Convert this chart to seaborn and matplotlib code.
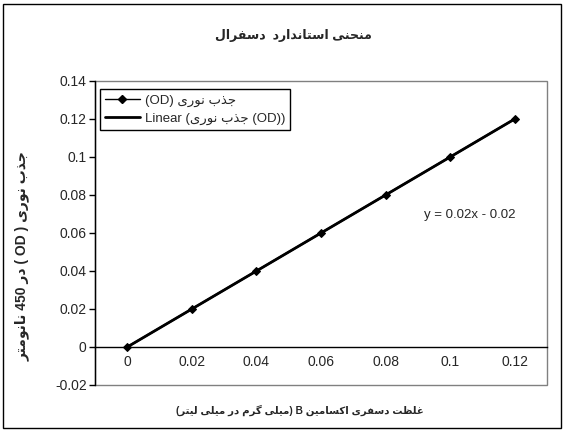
import numpy as np
import matplotlib
matplotlib.use("Agg")
import matplotlib.pyplot as plt
import seaborn as sns
from matplotlib.patches import Rectangle
from matplotlib.lines import Line2D
from matplotlib.ticker import FuncFormatter, FixedLocator

# ==================== 数据 ====================
conc = [0, 0.02, 0.04, 0.06, 0.08, 0.10, 0.12]
od = [0, 0.02, 0.04, 0.06, 0.08, 0.10, 0.12]
y_ticks = [-0.02, 0, 0.02, 0.04, 0.06, 0.08, 0.10, 0.12, 0.14]

TITLE = "منحنی استاندارد  دسفرال"
SERIES = "جذب نوری"
EQUATION = "y = 0.02x - 0.02"

# ==================== 波斯文字形处理 (iso, fin, ini, med) ====================
FORMS = {
    "ا": ("\uFE8D", "\uFE8E", None, None),
    "ب": ("\uFE8F", "\uFE90", "\uFE91", "\uFE92"),
    "ت": ("\uFE95", "\uFE96", "\uFE97", "\uFE98"),
    "ج": ("\uFE9D", "\uFE9E", "\uFE9F", "\uFEA0"),
    "ح": ("\uFEA1", "\uFEA2", "\uFEA3", "\uFEA4"),
    "د": ("\uFEA9", "\uFEAA", None, None),
    "ذ": ("\uFEAB", "\uFEAC", None, None),
    "ر": ("\uFEAD", "\uFEAE", None, None),
    "س": ("\uFEB1", "\uFEB2", "\uFEB3", "\uFEB4"),
    "ظ": ("\uFEC5", "\uFEC6", "\uFEC7", "\uFEC8"),
    "غ": ("\uFECD", "\uFECE", "\uFECF", "\uFED0"),
    "ف": ("\uFED1", "\uFED2", "\uFED3", "\uFED4"),
    "ل": ("\uFEDD", "\uFEDE", "\uFEDF", "\uFEE0"),
    "م": ("\uFEE1", "\uFEE2", "\uFEE3", "\uFEE4"),
    "ن": ("\uFEE5", "\uFEE6", "\uFEE7", "\uFEE8"),
    "و": ("\uFEED", "\uFEEE", None, None),
    "\u06CC": ("\uFBFC", "\uFBFD", "\uFBFE", "\uFBFF"),
    "\u064A": ("\uFBFC", "\uFBFD", "\uFBFE", "\uFBFF"),
    "\u06A9": ("\uFB8E", "\uFB8F", "\uFB90", "\uFB91"),
    "\u0643": ("\uFB8E", "\uFB8F", "\uFB90", "\uFB91"),
    "\u06AF": ("\uFB92", "\uFB93", "\uFB94", "\uFB95"),
}


def shape(text):
    out = []
    for i, ch in enumerate(text):
        forms = FORMS.get(ch)
        if forms is None:
            out.append(ch)
            continue
        prev = text[i - 1] if i > 0 else ""
        nxt = text[i + 1] if i + 1 < len(text) else ""
        cp = prev in FORMS and FORMS[prev][2] is not None
        cn = forms[2] is not None and nxt in FORMS
        if cp and cn:
            out.append(forms[3])
        elif cp:
            out.append(forms[1])
        elif cn:
            out.append(forms[2])
        else:
            out.append(forms[0])
    return "".join(out)


def rtl(text):
    return shape(text)[::-1]


title_txt = rtl(TITLE)
ylabel_txt = rtl("نانومتر") + " 450 " + rtl("در") + " ( OD ) " + rtl(SERIES)
xlabel_txt = "(" + rtl("میلی گرم در میلی لیتر") + ") B " + rtl("غلظت دسفری اکسامین")
label_data = "(OD) " + rtl(SERIES)
label_trend = "Linear (" + rtl(SERIES) + " (OD))"

# ==================== 样式 ====================
sns.set_style("white")
plt.rcParams["font.family"] = ["Liberation Sans", "DejaVu Sans"]
plt.rcParams["axes.unicode_minus"] = False

fig = plt.figure(figsize=(5.65, 4.32), dpi=100)
ax = fig.add_axes([95 / 565, 1 - 385 / 432, 452 / 565, 304 / 432])

sns.lineplot(x=conc, y=od, ax=ax, color="black", linewidth=2,
             marker="D", markersize=4.5, markeredgecolor="black")
sns.regplot(x=conc, y=od, ax=ax, scatter=False, ci=None, truncate=True,
            line_kws={"color": "black", "linewidth": 1.5})

ax.set_xlim(-0.01, 0.13)
ax.set_ylim(-0.02, 0.14)

# 坐标轴（Excel 风格）
for side in ["top", "right"]:
    ax.spines[side].set_visible(False)
ax.spines["bottom"].set_position(("data", 0))
ax.spines["bottom"].set_color("black")
ax.spines["left"].set_color("black")
ax.spines["left"].set_linewidth(1)
ax.spines["bottom"].set_linewidth(1)
ax.add_patch(Rectangle((0, 0), 1, 1, transform=ax.transAxes, fill=False,
                       edgecolor="#808080", linewidth=1, clip_on=False, zorder=0))

ax.set_xticks(conc)
ax.set_xticklabels([f"{round(v, 2) + 0.0:g}" for v in conc], fontsize=10)
bounds = np.array(conc[:-1]) + np.diff(conc) / 2
ax.xaxis.set_minor_locator(FixedLocator(list(bounds) + [0.13]))
ax.tick_params(axis="x", which="major", length=0, pad=6)
ax.tick_params(axis="x", which="minor", length=4, direction="in", width=1, color="black")

ax.set_yticks(y_ticks)
ax.yaxis.set_major_formatter(FuncFormatter(lambda v, p: f"{round(v, 2) + 0.0:g}"))
ax.tick_params(axis="y", length=4, direction="out", width=1, color="black",
               labelsize=10, pad=2, left=True)
ax.set_xlabel("")
ax.set_ylabel("")

ax.text(0.83, 0.56, EQUATION, transform=ax.transAxes, fontsize=9.5,
        ha="center", va="center")

handles = [
    Line2D([], [], color="black", linewidth=1, marker="D", markersize=4.5),
    Line2D([], [], color="black", linewidth=2),
]
leg = ax.legend(handles, [label_data, label_trend], loc="upper left",
                bbox_to_anchor=(0.011, 0.974), borderaxespad=0, fontsize=9.5,
                frameon=True, fancybox=False, edgecolor="black", framealpha=1,
                handlelength=2.6, labelspacing=0.45, borderpad=0.4,
                handletextpad=0.4)
leg.get_frame().set_linewidth(1)

fig.text(293 / 565, 1 - 36 / 432, title_txt, ha="center", va="center",
         fontsize=9, fontweight="bold")
fig.text(22 / 565, 1 - 256 / 432, ylabel_txt, ha="center", va="center",
         rotation=90, fontsize=10, fontweight="bold")
fig.text(300 / 565, 1 - 410 / 432, xlabel_txt, ha="center", va="center",
         fontsize=7.3, fontweight="bold")

fig.add_artist(Rectangle((3 / 565, 4 / 432), 558 / 565, 424 / 432,
                         transform=fig.transFigure, fill=False,
                         edgecolor="black", linewidth=1))

fig.savefig("out.png", dpi=100)
